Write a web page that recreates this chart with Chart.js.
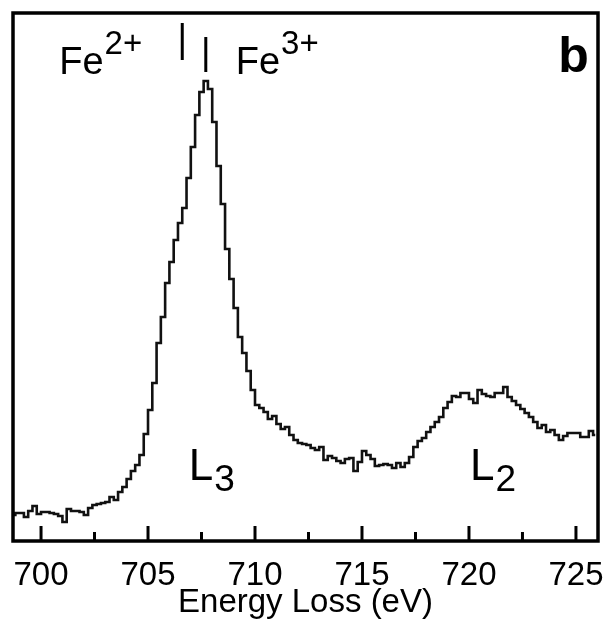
<!DOCTYPE html>
<html>
<head>
<meta charset="utf-8">
<script src="https://cdn.jsdelivr.net/npm/chart.js@4.4.0/dist/chart.umd.min.js"></script>
<style>
  html, body { margin: 0; padding: 0; background: #fff; }
  #wrap { width: 606px; height: 619px; }
</style>
</head>
<body>
<div id="wrap"><canvas id="eels" width="606" height="619"></canvas></div>
<script>
// Fe L2,3 edge, channel centres in eV (0.2 eV channels)
const energies = [
  698.7, 698.9, 699.1, 699.3, 699.5, 699.7, 699.9,
  700.1, 700.3, 700.5, 700.7, 700.9, 701.1, 701.3, 701.5, 701.7, 701.9,
  702.1, 702.3, 702.5, 702.7, 702.9, 703.1, 703.3, 703.5, 703.7, 703.9,
  704.1, 704.3, 704.5, 704.7, 704.9, 705.1, 705.3, 705.5, 705.7, 705.9,
  706.1, 706.3, 706.5, 706.7, 706.9, 707.1, 707.3, 707.5, 707.7, 707.9,
  708.1, 708.3, 708.5, 708.7, 708.9, 709.1, 709.3, 709.5, 709.7, 709.9,
  710.1, 710.3, 710.5, 710.7, 710.9, 711.1, 711.3, 711.5, 711.7, 711.9,
  712.1, 712.3, 712.5, 712.7, 712.9, 713.1, 713.3, 713.5, 713.7, 713.9,
  714.1, 714.3, 714.5, 714.7, 714.9, 715.1, 715.3, 715.5, 715.7, 715.9,
  716.1, 716.3, 716.5, 716.7, 716.9, 717.1, 717.3, 717.5, 717.7, 717.9,
  718.1, 718.3, 718.5, 718.7, 718.9, 719.1, 719.3, 719.5, 719.7, 719.9,
  720.1, 720.3, 720.5, 720.7, 720.9, 721.1, 721.3, 721.5, 721.7, 721.9,
  722.1, 722.3, 722.5, 722.7, 722.9, 723.1, 723.3, 723.5, 723.7, 723.9,
  724.1, 724.3, 724.5, 724.7, 724.9, 725.1, 725.3, 725.5, 725.7, 725.9
];
// intensity, arbitrary units
const counts = [
  26, 28, 28, 24, 30, 35, 27,
  29, 29, 28, 27, 25, 19, 32, 30, 30, 29,
  26, 33, 36, 37, 38, 39, 44, 41, 49, 54,
  62, 70, 76, 86, 107, 131, 158, 198, 224, 258,
  279, 301, 318, 333, 363, 394, 426, 449, 460, 452,
  419, 375, 337, 292, 262, 233, 204, 188, 170, 151,
  136, 133, 129, 122, 125, 117, 112, 114, 106, 101,
  98, 97, 96, 93, 91, 94, 81, 85, 83, 80,
  78, 82, 83, 70, 79, 90, 86, 82, 75, 76,
  77, 76, 73, 78, 74, 78, 84, 94, 100, 103,
  109, 114, 119, 124, 133, 139, 145, 144, 148, 148,
  142, 138, 151, 147, 145, 144, 148, 148, 154, 144,
  140, 136, 132, 128, 124, 119, 113, 116, 109, 111,
  106, 101, 105, 108, 108, 108, 104, 104, 110, 106
];
const majorTicks = [700, 705, 710, 715, 720, 725];
const minorTicks = [702.5, 707.5, 712.5, 717.5, 722.5];
// Fe2+ / Fe3+ edge positions (eV) and the span of their marks (intensity units)
const edgeMarks = [706.6, 707.7];
const edgeMarkSpan = [[481, 518], [469, 504]];

const FONT = '"Liberation Sans", Arial, Helvetica, sans-serif';

function drawScript(ctx, x, y, main, small, size, smallSize, shift) {
  ctx.font = size + 'px ' + FONT;
  ctx.fillText(main, x, y);
  const w = ctx.measureText(main).width;
  ctx.font = smallSize + 'px ' + FONT;
  ctx.fillText(small, x + w + 1, y + shift);
}

const decorations = {
  id: 'decorations',
  afterDatasetsDraw(chart) {
    const {ctx, chartArea: a, scales: {x, y}} = chart;
    ctx.save();
    ctx.strokeStyle = '#000';
    ctx.fillStyle = '#000';
    ctx.lineCap = 'butt';

    // inward ticks
    ctx.lineWidth = 3;
    majorTicks.forEach(v => {
      const px = x.getPixelForValue(v);
      ctx.beginPath(); ctx.moveTo(px, a.bottom); ctx.lineTo(px, a.bottom - 15); ctx.stroke();
    });
    minorTicks.forEach(v => {
      const px = x.getPixelForValue(v);
      ctx.beginPath(); ctx.moveTo(px, a.bottom); ctx.lineTo(px, a.bottom - 9); ctx.stroke();
    });

    // frame
    ctx.lineWidth = 3.5;
    ctx.strokeRect(a.left, a.top, a.right - a.left, a.bottom - a.top);

    // Fe2+ / Fe3+ marks
    ctx.lineWidth = 3;
    edgeMarks.forEach((e, i) => {
      const px = x.getPixelForValue(e);
      ctx.beginPath();
      ctx.moveTo(px, y.getPixelForValue(edgeMarkSpan[i][0]));
      ctx.lineTo(px, y.getPixelForValue(edgeMarkSpan[i][1]));
      ctx.stroke();
    });

    ctx.textBaseline = 'alphabetic';
    ctx.textAlign = 'left';
    drawScript(ctx, x.getPixelForValue(700.85), y.getPixelForValue(467), 'Fe', '2+', 38, 33, -20);
    drawScript(ctx, x.getPixelForValue(709.1), y.getPixelForValue(467), 'Fe', '3+', 38, 33, -20);
    drawScript(ctx, x.getPixelForValue(706.9), y.getPixelForValue(61), 'L', '3', 44, 37, 11);
    drawScript(ctx, x.getPixelForValue(720.05), y.getPixelForValue(61), 'L', '2', 44, 37, 11);

    ctx.font = 'bold 50px ' + FONT;
    ctx.textAlign = 'right';
    ctx.fillText('b', x.getPixelForValue(725.6), y.getPixelForValue(469));
    ctx.restore();
  }
};

new Chart(document.getElementById('eels'), {
  type: 'line',
  data: {
    datasets: [{
      data: energies.map((e, i) => ({x: e, y: counts[i]})),
      stepped: 'middle',
      borderColor: '#111',
      borderWidth: 2.6,
      pointRadius: 0,
      fill: false
    }]
  },
  options: {
    responsive: false,
    animation: false,
    events: [],
    layout: { padding: { left: 13, right: 8, top: 13, bottom: 0 } },
    plugins: { legend: { display: false }, tooltip: { enabled: false } },
    scales: {
      x: {
        type: 'linear',
        min: 698.69,
        max: 726.03,
        grid: { display: false, drawTicks: false },
        border: { display: false },
        afterBuildTicks: s => { s.ticks = majorTicks.map(v => ({value: v})); },
        ticks: {
          color: '#000',
          padding: 15,
          maxRotation: 0,
          autoSkip: false,
          font: { family: FONT, size: 33 }
        },
        title: {
          display: true,
          text: 'Energy Loss (eV)',
          color: '#000',
          padding: { top: 0, bottom: 0 },
          font: { family: FONT, size: 33, lineHeight: 1.0 }
        },
        afterFit: s => {
          s.height = 78;
          s.paddingLeft = 0;
          s.paddingRight = 0;
        }
      },
      y: {
        display: false,
        min: 0,
        max: 528
      }
    }
  },
  plugins: [decorations]
});
</script>
</body>
</html>
